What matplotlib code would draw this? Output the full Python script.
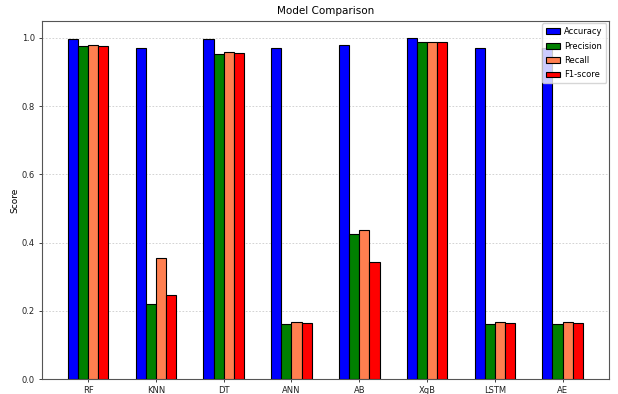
import matplotlib
matplotlib.use("Agg")
import matplotlib.pyplot as plt
import numpy as np

models = ["RF", "KNN", "DT", "ANN", "AB", "XgB", "LSTM", "AE"]
accuracy = [0.997, 0.970, 0.997, 0.970, 0.978, 0.999, 0.970, 0.970]
precision = [0.975, 0.220, 0.953, 0.161, 0.424, 0.989, 0.161, 0.161]
recall = [0.978, 0.356, 0.958, 0.166, 0.437, 0.987, 0.166, 0.166]
f1_score = [0.976, 0.246, 0.956, 0.164, 0.342, 0.989, 0.164, 0.164]

plt.rcParams["font.size"] = 6

x = np.arange(len(models))
width = 0.15

fig = plt.figure(figsize=(6.18, 3.94), dpi=100)
ax = fig.add_axes([0.068, 0.038, 0.917, 0.909])

ax.bar(x, accuracy, width, label="Accuracy", color="blue", edgecolor="black", linewidth=0.8, zorder=3)
ax.bar(x + width, precision, width, label="Precision", color="green", edgecolor="black", linewidth=0.8, zorder=3)
ax.bar(x + 2 * width, recall, width, label="Recall", color="coral", edgecolor="black", linewidth=0.8, zorder=3)
ax.bar(x + 3 * width, f1_score, width, label="F1-score", color="red", edgecolor="black", linewidth=0.8, zorder=3)

ax.set_xticks(x + 1.5 * width)
ax.set_xticklabels(models)
ax.set_ylim(0, 1.05)
ax.set_ylabel("Score", fontsize=6.5, labelpad=2)
ax.set_title("Model Comparison", fontsize=7.5, pad=5)
ax.grid(axis="y", linestyle=(0, (2, 2)), color="#cccccc", linewidth=0.6, zorder=0)
for s in ax.spines.values():
    s.set_color("#555555")
ax.tick_params(length=2.5, width=0.6, pad=2.5, colors="#222222")
ax.legend(loc="upper right", fontsize=6, handlelength=1.7, labelspacing=0.65,
          borderpad=0.45, handletextpad=0.5, borderaxespad=0.3)

fig.savefig("out.png", dpi=100)
